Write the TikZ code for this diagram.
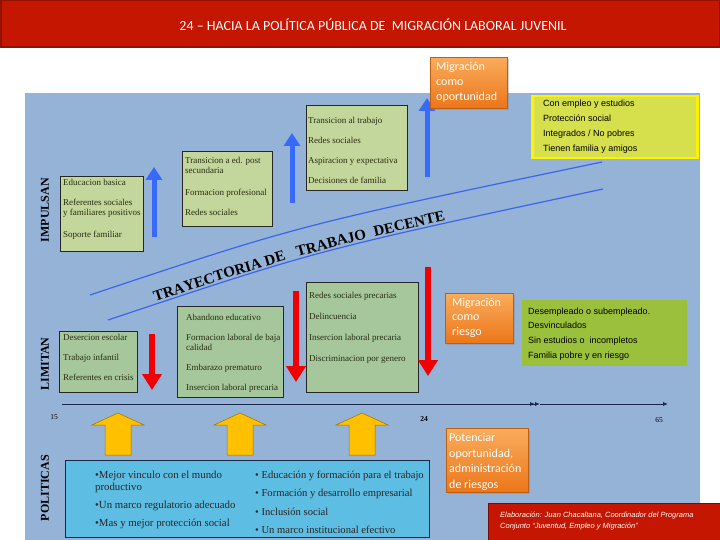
\documentclass[tikz,border=0pt]{standalone}
\usepackage{fontspec}
\setmainfont{Liberation Serif}
\newfontfamily\arialfont{Liberation Sans}
\newfontfamily\calfont{Carlito}
\newfontfamily\titlefont{Carlito}
\usepackage{xcolor}
\usepackage{tikz}
\usetikzlibrary{arrows.meta, positioning, shadows, decorations.text}

\definecolor{bgblue}{RGB}{149,179,215}
\definecolor{titlered}{RGB}{196,22,0}
\definecolor{upgreen}{RGB}{195,214,155}
\definecolor{lowgreen}{RGB}{166,198,156}
\definecolor{limegreen}{RGB}{155,192,60}
\definecolor{softyellow}{RGB}{214,224,76}
\definecolor{polblue}{RGB}{94,189,226}
\definecolor{arrowblue}{RGB}{55,105,250}
\definecolor{bandblue}{RGB}{60,100,235}
\definecolor{arrowred}{RGB}{240,0,0}
\definecolor{gold}{RGB}{255,192,0}
\definecolor{ortop}{RGB}{250,172,92}
\definecolor{orbot}{RGB}{236,118,26}
\definecolor{inkgreen}{RGB}{40,45,20}
\definecolor{navy}{RGB}{25,40,70}

\begin{document}
\begin{tikzpicture}[x=1pt, y=-1pt,
        gbox/.style={rectangle, draw=black!85, line width=0.8pt, fill=upgreen, anchor=north west, inner sep=0pt},
        lbox/.style={gbox, fill=lowgreen},
        btext/.style={anchor=north west, inner sep=0pt, align=left, text=inkgreen, font=\fontsize{9}{10}\selectfont},
        stext/.style={anchor=north west, inner sep=0pt, align=left, text=black, font=\arialfont\fontsize{9}{15}\selectfont},
        orbox/.style={rectangle, draw=orbot!80!black, top color=ortop, bottom color=orbot, anchor=north west, inner sep=0pt,
            drop shadow={opacity=0.35, shadow xshift=2pt, shadow yshift=-2pt}},
        otext/.style={anchor=north west, inner sep=0pt, align=left, text=white, font=\calfont\fontsize{12}{15}\selectfont},
        sidelabel/.style={rotate=90, font=\bfseries\fontsize{12}{12}\selectfont},
        uparrow/.style={draw=arrowblue, line width=5pt, -{Triangle[width=16pt,length=13pt]}},
        downarrow/.style={draw=arrowred, line width=6pt, -{Triangle[width=19pt,length=16pt]}},
        bigarrow/.style={fill=gold, draw=gold!60!black, line width=0.5pt},
        band/.style={draw=bandblue, line width=1.2pt},
        axisline/.style={draw=navy, line width=0.8pt}
    ]
    \useasboundingbox (0,0) rectangle (720,540);

    % title bar
    \fill[titlered] (0,0) rectangle (720,47);
    \draw[titlered!75!black, line width=1.5pt] (0.75,0.75) rectangle (719.25,47);
    \node[font=\titlefont\fontsize{14}{14}\selectfont, text=white] (title) at (373,25)
        {24 – HACIA LA POLÍTICA PÚBLICA DE\ \ MIGRACIÓN LABORAL JUVENIL};

    % background
    \fill[bgblue] (25,93) rectangle (700,540);

    % side labels
    \node[sidelabel] (impulsan) at (45,210) {IMPULSAN};
    \node[sidelabel] (limitan) at (45,364) {LIMITAN};
    \node[sidelabel] (politicas) at (45,488) {POLITICAS};

    % trajectory band
    \draw[band] (90,295) .. controls (300,225) .. (602,162);
    \draw[band] (108,320) .. controls (318,250) .. (603,189);
    \path[decorate, decoration={text along path, text align={left indent=50pt},
        text={|\bfseries\fontsize{15}{15}\selectfont|TRAYECTORIA DE{\hspace{12pt}}TRABAJO{\hspace{8pt}}DECENTE}}]
        (108,317.5) .. controls (318,247.5) .. (603,186.5);

    % boxes that push
    \node[gbox, minimum width=83pt, minimum height=75pt] (impA) at (60,176) {};
    \node[btext] (impAt) at (63,179) {Educacion basica\\[10pt]Referentes sociales\\y familiares positivos\\[12pt]Soporte familiar};
    \node[gbox, minimum width=90pt, minimum height=75pt] (impB) at (182,151) {};
    \node[btext] (impBt) at (185,157) {Transicion a ed. post\\secundaria\\[12pt]Formacion profesional\\[10pt]Redes sociales};
    \node[gbox, minimum width=101pt, minimum height=85pt] (impC) at (306,105) {};
    \node[btext] (impCt) at (308,117) {Transicion al trabajo\\[10pt]Redes sociales\\[10pt]Aspiracion y expectativa\\[10pt]Decisiones de familia};

    \foreach \x/\ya/\yb in {154/237/167, 292/203/133, 427/177/98}
        \draw[uparrow] (\x,\ya) -- (\x,\yb);

    % boxes that limit
    \node[lbox, minimum width=78pt, minimum height=61pt] (limA) at (59,331) {};
    \node[btext] (limAt) at (63,334) {Desercion escolar\\[10pt]Trabajo infantil\\[10pt]Referentes en crisis};
    \node[lbox, minimum width=106pt, minimum height=91pt] (limB) at (177,306) {};
    \node[btext] (limBt) at (186,314) {Abandono educativo\\[10pt]Formacion laboral de baja\\calidad\\[10pt]Embarazo prematuro\\[10pt]Insercion laboral precaria};
    \node[lbox, minimum width=112pt, minimum height=110pt] (limC) at (306,282) {};
    \node[btext] (limCt) at (309,292) {Redes sociales precarias\\[11pt]Delincuencia\\[11pt]Insercion laboral precaria\\[11pt]Discriminacion por genero};

    \foreach \x/\ya/\yb in {152/334/390, 296/291/382, 428/267/376}
        \draw[downarrow] (\x,\ya) -- (\x,\yb);

    % status boxes
    \node[rectangle, draw=yellow, line width=2.5pt, fill=softyellow, anchor=north west, minimum width=165pt, minimum height=62pt] (good) at (531,95) {};
    \node[stext] (goodt) at (543,100) {Con empleo y estudios\\Protección social\\Integrados / No pobres\\Tienen familia y amigos};
    \node[rectangle, fill=limegreen, anchor=north west, minimum width=165pt, minimum height=66pt] (bad) at (522,300) {};
    \node[stext, font=\arialfont\fontsize{9}{14.7}\selectfont] (badt) at (528,307.5) {Desempleado o subempleado.\\Desvinculados\\Sin estudios o\ \ incompletos\\Familia pobre y en riesgo};

    % migration boxes
    \node[orbox, minimum width=77pt, minimum height=51pt] (opor) at (430,57) {};
    \node[otext] (oport) at (436,62) {Migración\\como\\oportunidad};
    \node[orbox, minimum width=68pt, minimum height=50pt] (ries) at (445,293) {};
    \node[otext, font=\calfont\fontsize{12}{14.5}\selectfont] (riest) at (452,298) {Migración\\como\\riesgo};

    % age axis
    \draw[axisline, -{Latex[length=5pt,width=4pt]Latex[length=5pt,width=4pt]}] (62,404) -- (540,404);
    \draw[axisline, -{Latex[length=5pt,width=4pt]}] (540,404) -- (668,404);
    \node[font=\fontsize{7.5}{8}\selectfont] (age15) at (54,417) {15};
    \node[font=\bfseries\fontsize{7.5}{8}\selectfont] (age24) at (424,419) {24};
    \node[font=\fontsize{7.5}{8}\selectfont] (age65) at (659,420) {65};

    % policy arrows
    \foreach \x in {118,240,362}
        \draw[bigarrow] (\x,413) -- ++(26,12) -- ++(-13,0) -- ++(0,30) -- ++(-26,0) -- ++(0,-30) -- ++(-13,0) -- cycle;

    % policies
    \node[rectangle, draw=navy, line width=0.8pt, fill=polblue, anchor=north west, minimum width=364pt, minimum height=77pt] (pol) at (65,460) {};
    \node[anchor=north west, inner sep=0pt, align=left, text=black!85, font=\fontsize{10.8}{12}\selectfont] (polA) at (95,471)
        {•Mejor vinculo con el mundo\\productivo\\[6pt]•Un marco regulatorio adecuado\\[6pt]•Mas y mejor protección social};
    \node[anchor=north west, inner sep=0pt, align=left, text=black!85, font=\fontsize{10.6}{12}\selectfont] (polB) at (255,471)
        {• Educación y formación para el trabajo\\[6.3pt]• Formación y desarrollo empresarial\\[6.3pt]• Inclusión social\\[6.3pt]• Un marco institucional efectivo};

    \node[orbox, minimum width=82pt, minimum height=64pt] (pot) at (446,428) {};
    \node[otext, font=\calfont\fontsize{12}{15.7}\selectfont] (pott) at (449,433) {Potenciar\\oportunidad,\\administración\\de riesgos};

    % credit
    \node[rectangle, fill=titlered, draw=titlered!60!black, anchor=north west, minimum width=233pt, minimum height=38pt] (cred) at (488,503) {};
    \node[anchor=north west, inner sep=0pt, align=left, text=white, font=\arialfont\itshape\fontsize{7.5}{11}\selectfont] (credt) at (500,512)
        {Elaboración: Juan Chacaltana, Coordinador del Programa\\Conjunto “Juventud, Empleo y Migración”};
\end{tikzpicture}
\end{document}
